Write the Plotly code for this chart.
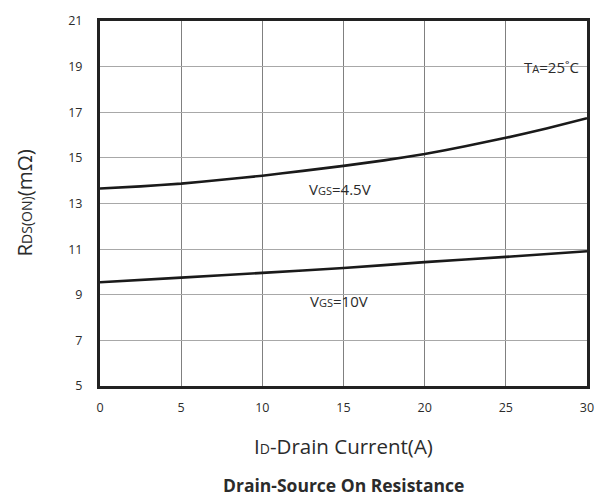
import plotly.graph_objects as go

# Data
id_current = [0, 2.5, 5, 7.5, 10, 12.5, 15, 17.5, 20, 22.5, 25, 27.5, 30]
rds_vgs45 = [13.66, 13.75, 13.87, 14.04, 14.22, 14.43, 14.65, 14.89, 15.17, 15.51, 15.88, 16.29, 16.74]
id_current_10 = [0, 5, 10, 15, 20, 25, 30]
rds_vgs10 = [9.55, 9.75, 9.96, 10.17, 10.43, 10.66, 10.91]
x_ticks = [0, 5, 10, 15, 20, 25, 30]
y_ticks = [5, 7, 9, 11, 13, 15, 17, 19, 21]

FONT = "Open Sans"
TXT = "#2b2b2b"
fig = go.Figure()
fig.add_trace(go.Scatter(x=id_current, y=rds_vgs45, mode="lines",
                         line=dict(color="#1a1a1a", width=2.6, shape="spline", smoothing=0.5),
                         showlegend=False, hoverinfo="skip"))
fig.add_trace(go.Scatter(x=id_current_10, y=rds_vgs10, mode="lines",
                         line=dict(color="#1a1a1a", width=2.6, shape="spline", smoothing=0.5),
                         showlegend=False, hoverinfo="skip"))

sub = '<span style="font-size:11px">%s</span>'
fig.add_annotation(x=14.8, y=13.62, text="V" + sub % "GS" + "=4.5V", showarrow=False,
                   font=dict(family=FONT, size=15, color=TXT))
fig.add_annotation(x=14.7, y=8.74, text="V" + sub % "GS" + "=10V", showarrow=False,
                   font=dict(family=FONT, size=15, color=TXT))
fig.add_annotation(x=29.6, y=19.0, text="T" + sub % "A" + "=25˚C", showarrow=False, xanchor="right",
                   font=dict(family=FONT, size=15, color=TXT))

fig.add_annotation(xref="paper", yref="paper", x=0.5, y=-0.165, yanchor="middle",
                   text="I" + '<span style="font-size:14px">D</span>' + "-Drain Current(A)",
                   showarrow=False, font=dict(family=FONT, size=20.5, color=TXT))
fig.add_annotation(xref="paper", yref="paper", x=0.5, y=-0.27, yanchor="middle",
                   text="<b>Drain-Source On Resistance</b>",
                   showarrow=False, font=dict(family=FONT, size=17.5, color=TXT))
fig.add_annotation(xref="paper", yref="paper", x=-0.158, y=0.5, xanchor="center", yanchor="middle",
                   textangle=-90,
                   text="R" + '<span style="font-size:14px">DS(ON)</span>' + "(mΩ)",
                   showarrow=False, font=dict(family=FONT, size=20.5, color=TXT))

fig.update_xaxes(range=[0, 30], tickvals=x_ticks, showgrid=True, gridcolor="#808080", gridwidth=1.2,
                 showline=True, linecolor="#222", linewidth=3, mirror=True, zeroline=False,
                 ticks="outside", ticklen=8, tickcolor="rgba(0,0,0,0)",
                 tickfont=dict(family=FONT, size=12.5, color=TXT))
fig.update_yaxes(range=[5, 21], tickvals=y_ticks, showgrid=True, gridcolor="#a8a8a8", gridwidth=1.2,
                 showline=True, linecolor="#222", linewidth=3, mirror=True, zeroline=False,
                 ticks="outside", ticklen=12, tickcolor="rgba(0,0,0,0)",
                 tickfont=dict(family=FONT, size=12.5, color=TXT))

fig.update_layout(width=606, height=503, margin=dict(l=100, r=18, t=13, b=117),
                  plot_bgcolor="white", paper_bgcolor="white")
fig.write_html("out.html")
